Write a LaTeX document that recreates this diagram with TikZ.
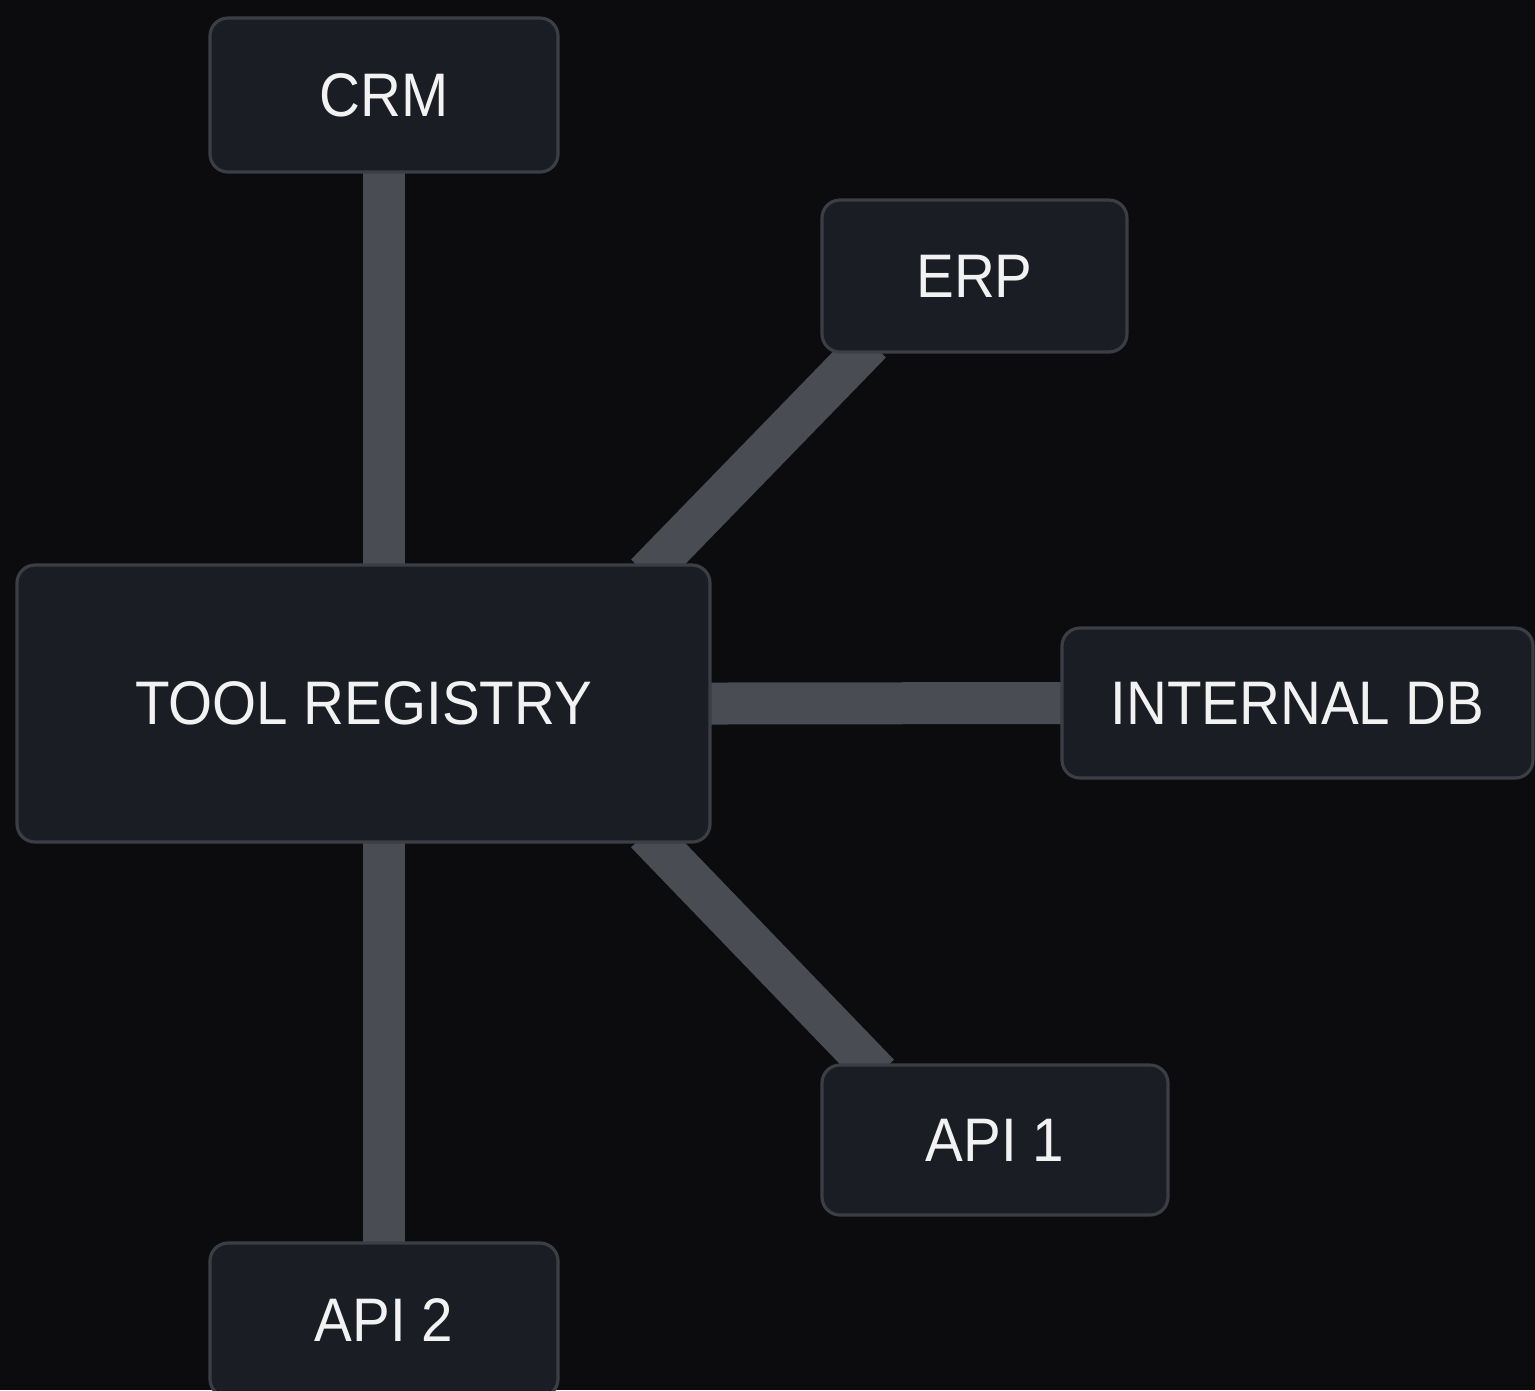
\documentclass[tikz,border=0pt]{standalone}
\usepackage{fontspec}
\setmainfont{Liberation Sans}
\newfontfamily\boxfont[FakeStretch=0.92]{Liberation Sans}
\usetikzlibrary{backgrounds}
\definecolor{bgdark}{HTML}{0C0C0E}
\definecolor{boxfill}{HTML}{1B1D24}
\definecolor{boxline}{HTML}{3C3E46}
\definecolor{linkgray}{HTML}{4A4C53}
\definecolor{txt}{HTML}{F2F2F2}

\begin{document}
\begin{tikzpicture}[
    box/.style = {shape=rectangle, rounded corners=0.18cm,
      draw=boxline, line width=0.9pt, fill=boxfill,
      align=center, text=txt, font=\boxfont\fontsize{17.5}{20}\selectfont,
      inner sep=0pt},
    link/.style = {draw=linkgray, line width=0.42cm,
      shorten <=-0.15cm, shorten >=-0.15cm}]
    \useasboundingbox (0,0) rectangle (15.35,-13.90);
    \node[box, minimum width=3.48cm, minimum height=1.54cm] (crm) at (3.84,-0.95) {CRM};
    \node[box, minimum width=3.05cm, minimum height=1.52cm] (erp) at (9.745,-2.76) {ERP};
    \node[box, minimum width=6.93cm, minimum height=2.77cm] (reg) at (3.635,-7.035) {TOOL REGISTRY};
    \node[box, minimum width=4.71cm, minimum height=1.50cm] (db) at (12.975,-7.03) {INTERNAL DB};
    \node[box, minimum width=3.46cm, minimum height=1.50cm] (apione) at (9.95,-11.40) {API 1};
    \node[box, minimum width=3.48cm, minimum height=1.54cm] (apitwo) at (3.84,-13.20) {API 2};
    \begin{scope}[on background layer]
      \fill[bgdark] (0,0) rectangle (15.35,-13.90);
      \draw[link] (crm.south) -- (crm.south |- reg.north);
      \draw[link] ([xshift=-0.55cm]reg.north east) -- ([xshift=0.40cm]erp.south west);
      \draw[link] (reg.east) -- (db.west);
      \draw[link] ([xshift=-0.55cm]reg.south east) -- ([xshift=0.48cm]apione.north west);
      \draw[link] (apitwo.north) -- (apitwo.north |- reg.south);
    \end{scope}
\end{tikzpicture}
\end{document}
